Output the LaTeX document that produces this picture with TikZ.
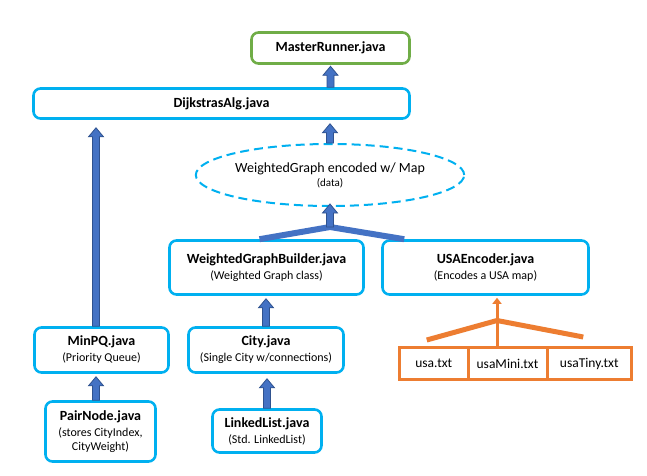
\documentclass[tikz,border=0pt]{standalone}
\usepackage{fontspec}
\setmainfont{Carlito}
\usetikzlibrary{calc,arrows.meta,shapes.geometric}
\definecolor{boxblue}{RGB}{0,176,240}
\definecolor{mgreen}{RGB}{112,173,71}
\definecolor{aorange}{RGB}{237,125,49}
\definecolor{afill}{RGB}{68,114,196}
\definecolor{aline}{RGB}{47,82,143}
\newcommand\ttl[1]{{\fontsize{14}{16}\selectfont\bfseries #1}}
\newcommand\blockup[2]{\filldraw[blockarrow] let \p1=#1, \p2=#2 in
  (\x1-3.5pt,\y1) -- (\x1-3.5pt,\y2-9pt) -- (\x1-7.5pt,\y2-9pt) -- (\x1,\y2)
  -- (\x1+7.5pt,\y2-9pt) -- (\x1+3.5pt,\y2-9pt) -- (\x1+3.5pt,\y1) -- cycle;}
\begin{document}
\begin{tikzpicture}[x=1pt,y=1pt,
  box/.style={draw=boxblue, line width=2.6pt, rounded corners=7pt, align=center,
    inner sep=0pt, font=\fontsize{12}{14}\selectfont},
  gbox/.style={box, draw=mgreen},
  obox/.style={draw=aorange, line width=3pt, inner sep=0pt, minimum height=32pt,
    font=\fontsize{13.5}{15}\selectfont},
  blockarrow/.style={fill=afill, draw=aline, line width=0.8pt},
  bbranch/.style={draw=afill, line width=6pt},
  obranch/.style={draw=aorange, line width=5pt},
  oarrow/.style={draw=aorange, line width=3pt, -{Triangle[width=9pt,length=6pt]}}]
\useasboundingbox (0,0) rectangle (647,475);
\fill[white] (0,0) rectangle (647,475);

\node[gbox, minimum width=158pt, minimum height=31pt] (master) at (330.5,427) {\ttl{MasterRunner.java}};
\node[box, minimum width=376pt, minimum height=30pt] (dij) at (221.5,371.5) {\ttl{DijkstrasAlg.java}};
\node[ellipse, draw=boxblue, line width=2pt, dash pattern=on 9pt off 5pt,
  minimum width=212pt, minimum height=62pt, inner sep=0pt, align=center] (ell) at (330,300)
  {{\fontsize{14}{16}\selectfont WeightedGraph encoded w/ Map}\\[2pt]{\fontsize{11}{12}\selectfont (data)}};
\node[box, minimum width=194pt, minimum height=54pt] (bld) at (266.5,207.5)
  {\ttl{WeightedGraphBuilder.java}\\[2pt](Weighted Graph class)};
\node[box, minimum width=206pt, minimum height=54pt] (enc) at (485.5,207.5)
  {\ttl{USAEncoder.java}\\[2pt](Encodes a USA map)};
\node[box, minimum width=134pt, minimum height=45pt] (pq) at (101.5,125)
  {\ttl{MinPQ.java}\\[2pt](Priority Queue)};
\node[box, minimum width=155pt, minimum height=45pt] (city) at (266,125)
  {\ttl{City.java}\\[2pt](Single City w/connections)};
\node[box, minimum width=110pt, minimum height=60pt] (pair) at (100.5,43.5)
  {\ttl{PairNode.java}\\[2pt](stores CityIndex,\\CityWeight)};
\node[box, minimum width=109pt, minimum height=43pt] (ll) at (267,44)
  {\ttl{LinkedList.java}\\[2pt](Std. LinkedList)};
\node[obox, minimum width=68.5pt] (usa) at (433.75,111.5) {usa.txt};
\node[obox, minimum width=79pt] (mini) at (507.5,111.5) {usaMini.txt};
\node[obox, minimum width=84.5pt] (tiny) at (589.25,111.5) {usaTiny.txt};

% blue block arrows
\blockup{(dij.north -| master.south)}{($(master.south)+(0,-1.5)$)}
\blockup{(ell.north)}{($(dij.south)+(0,-4)$)}
\blockup{($(pq.north)+(-5.5,0)$)}{($(dij.south)+(0,-8)$)}
\blockup{($(pair.north)+(-4.5,0)$)}{($(pq.south)+(0,-3)$)}
\blockup{(ll.north)}{($(city.south)+(0,-5)$)}
\blockup{(city.north)}{($(bld.south)+(0,-3)$)}

% blue merge into ellipse
\coordinate (bj) at ($(ell.south)+(0,-20)$);
\draw[bbranch] ($(bld.north)+(-7,0)$) -- (bj) -- ($(enc.north west)+(23,0)$);
\blockup{(bj)}{($(ell.south)+(0,3)$)}

% orange merge into encoder
\coordinate (oj) at ($(mini.north)+(-10.5,25.5)$);
\draw[obranch] ($(usa.north)+(-7,6)$) -- (oj) -- ($(tiny.north)+(-6,9)$);
\draw[oarrow] (oj |- mini.north) -- ($(oj |- enc.south)+(0,-2)$);
\end{tikzpicture}
\end{document}
